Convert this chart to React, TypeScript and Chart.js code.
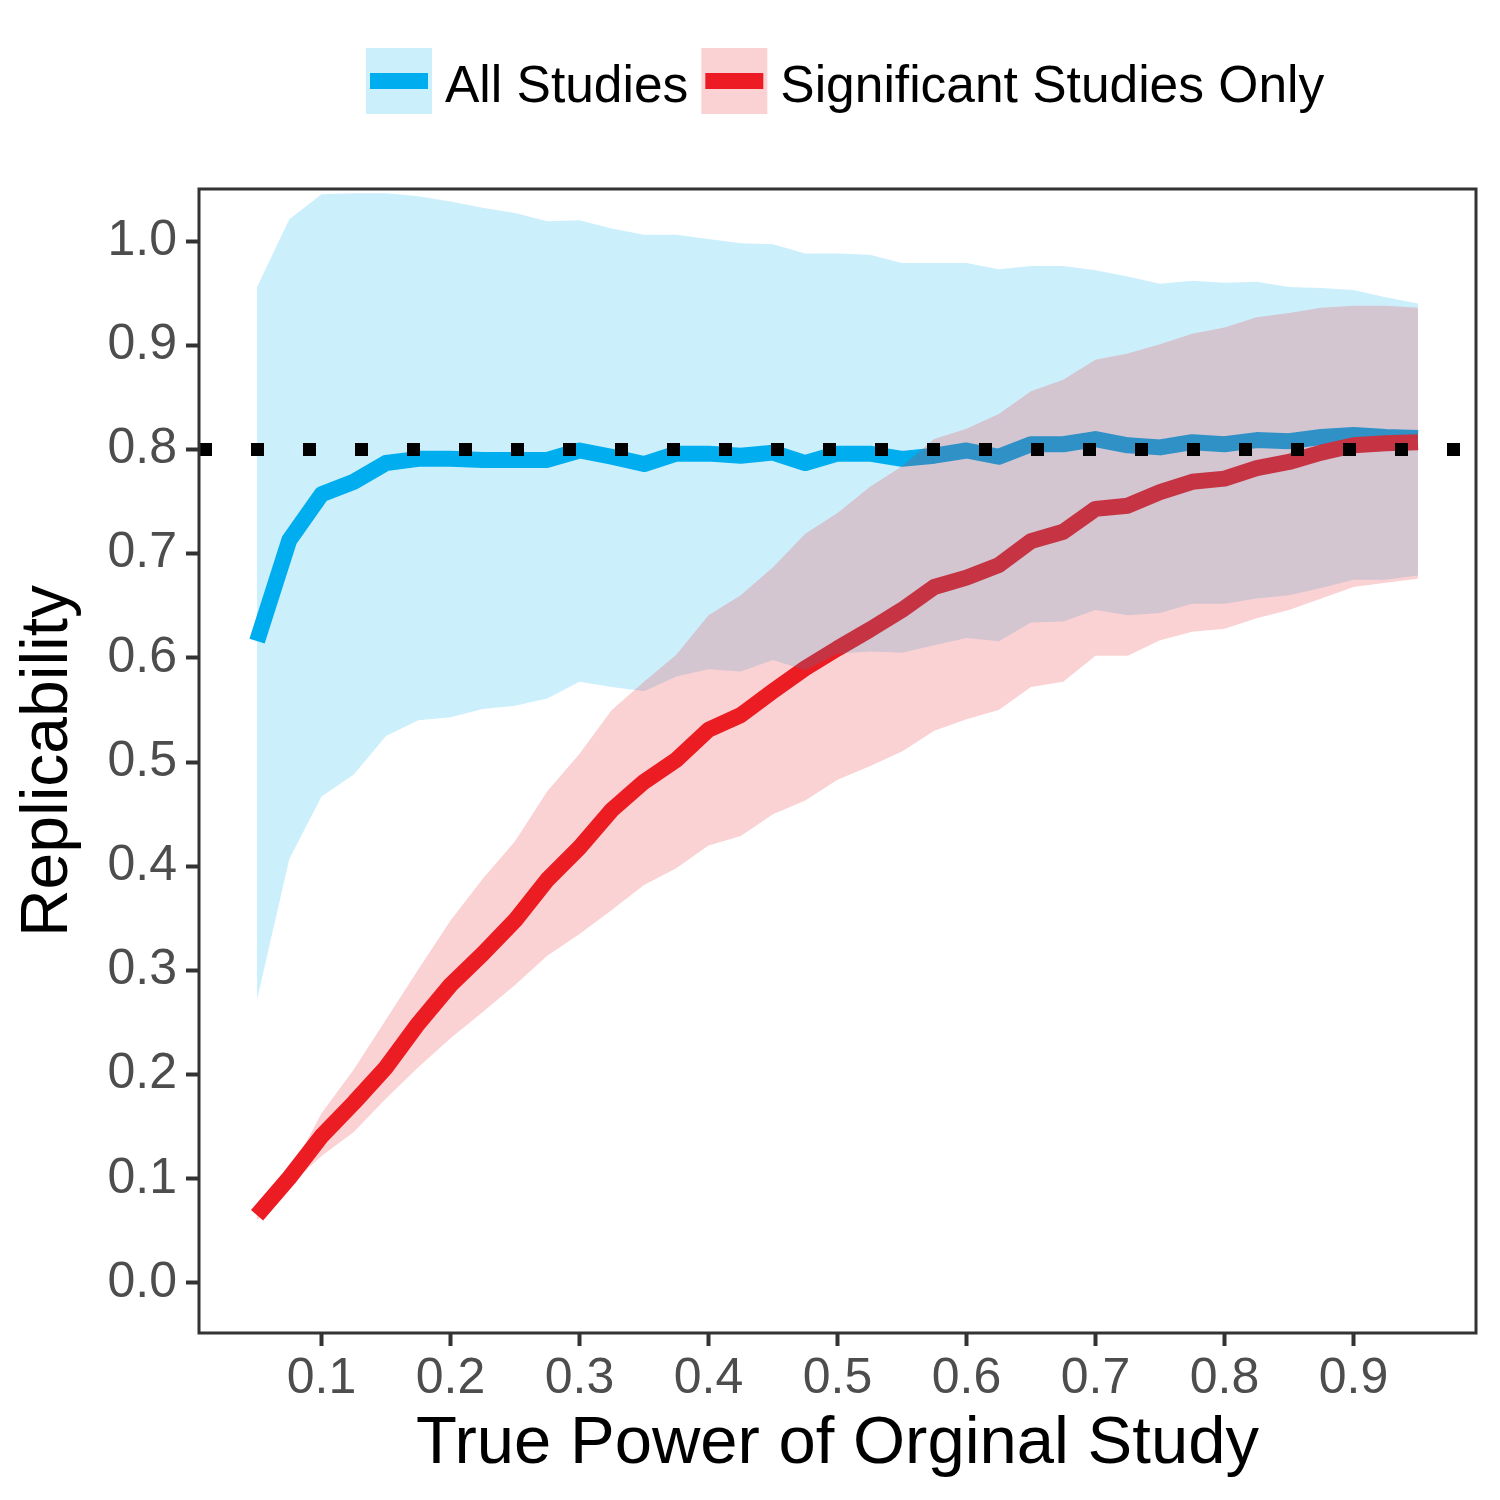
import React, { useEffect, useRef } from "react";
import { Chart, registerables } from "chart.js";

Chart.register(...registerables);

// ---- data ----
const truePower = [
  0.05, 0.075, 0.1, 0.125, 0.15, 0.175, 0.2, 0.225, 0.25, 0.275, 0.3, 0.325, 0.35,
  0.375, 0.4, 0.425, 0.45, 0.475, 0.5, 0.525, 0.55, 0.575, 0.6, 0.625, 0.65, 0.675,
  0.7, 0.725, 0.75, 0.775, 0.8, 0.825, 0.85, 0.875, 0.9, 0.925, 0.95,
];

const allStudiesMean = [
  0.616, 0.713, 0.757, 0.769, 0.787, 0.791, 0.791, 0.790, 0.790, 0.790, 0.799, 0.793, 0.786,
  0.796, 0.796, 0.794, 0.797, 0.787, 0.796, 0.796, 0.791, 0.794, 0.799, 0.793, 0.805, 0.805,
  0.810, 0.804, 0.802, 0.807, 0.805, 0.809, 0.808, 0.812, 0.814, 0.812, 0.811,
];
const allStudiesUpper = [
  0.956, 1.021, 1.045, 1.046, 1.046, 1.043, 1.038, 1.032, 1.027, 1.019, 1.020, 1.012, 1.006,
  1.006, 1.002, 0.998, 0.997, 0.988, 0.988, 0.987, 0.979, 0.979, 0.979, 0.973, 0.976, 0.976,
  0.972, 0.966, 0.959, 0.962, 0.960, 0.961, 0.956, 0.955, 0.953, 0.946, 0.940,
];
const allStudiesLower = [
  0.272, 0.407, 0.467, 0.488, 0.525, 0.540, 0.543, 0.551, 0.554, 0.561, 0.577, 0.572, 0.568,
  0.582, 0.589, 0.587, 0.598, 0.588, 0.604, 0.606, 0.605, 0.612, 0.619, 0.616, 0.634, 0.635,
  0.646, 0.641, 0.643, 0.652, 0.652, 0.657, 0.660, 0.667, 0.675, 0.675, 0.679,
];

const sigStudiesMean = [
  0.065, 0.101, 0.141, 0.173, 0.207, 0.249, 0.286, 0.316, 0.348, 0.387, 0.418, 0.454, 0.481,
  0.502, 0.531, 0.545, 0.568, 0.590, 0.609, 0.627, 0.646, 0.668, 0.677, 0.689, 0.712, 0.721,
  0.743, 0.746, 0.759, 0.769, 0.772, 0.782, 0.788, 0.797, 0.804, 0.806, 0.807,
];
const sigStudiesUpper = [
  0.068, 0.105, 0.163, 0.205, 0.253, 0.301, 0.348, 0.388, 0.424, 0.472, 0.508, 0.550, 0.577,
  0.603, 0.641, 0.660, 0.687, 0.719, 0.739, 0.764, 0.784, 0.810, 0.820, 0.834, 0.856, 0.867,
  0.886, 0.892, 0.901, 0.911, 0.917, 0.927, 0.931, 0.936, 0.938, 0.938, 0.936,
];
const sigStudiesLower = [
  0.060, 0.094, 0.122, 0.145, 0.177, 0.207, 0.235, 0.260, 0.286, 0.314, 0.335, 0.358, 0.382,
  0.398, 0.420, 0.429, 0.450, 0.463, 0.483, 0.496, 0.510, 0.530, 0.541, 0.550, 0.572, 0.577,
  0.602, 0.602, 0.617, 0.625, 0.628, 0.638, 0.646, 0.657, 0.668, 0.672, 0.676,
];

const targetLevel = [0.8];

const xTickValues = [0.1, 0.2, 0.3, 0.4, 0.5, 0.6, 0.7, 0.8, 0.9];
const yTickValues = [0.0, 0.1, 0.2, 0.3, 0.4, 0.5, 0.6, 0.7, 0.8, 0.9, 1.0];

const seriesNames = ["All Studies", "Significant Studies Only"];
const xTitle = "True Power of Orginal Study";
const yTitle = "Replicability";

// ---- styles ----
const X_MIN = 0.005;
const X_MAX = 0.995;
const Y_MIN = -0.048;
const Y_MAX = 1.05;
const BLUE = "#00AEEF";
const RED = "#ED1C24";
const BLUE_FILL = "rgba(0,174,239,0.2)";
const RED_FILL = "rgba(237,28,36,0.2)";
const FONT = "'Liberation Sans', Arial, sans-serif";
const AXIS_COLOR = "#333333";

const pts = (ys: number[]) => truePower.map((x, i) => ({ x, y: ys[i] }));

const legendPlugin = {
  id: "ribbonLegend",
  afterDraw(chart: any) {
    const ctx = chart.ctx as CanvasRenderingContext2D;
    const items = [
      { label: seriesNames[0], line: BLUE, fill: BLUE_FILL },
      { label: seriesNames[1], line: RED, fill: RED_FILL },
    ];
    ctx.save();
    ctx.font = `51.5px ${FONT}`;
    ctx.textBaseline = "alphabetic";
    ctx.textAlign = "left";
    const size = 66;
    const top = 48;
    let x = 366;
    items.forEach((it) => {
      ctx.fillStyle = it.fill;
      ctx.fillRect(x, top, size, size);
      ctx.strokeStyle = it.line;
      ctx.lineWidth = 16;
      ctx.lineCap = "butt";
      ctx.beginPath();
      ctx.moveTo(x + 4, top + size / 2);
      ctx.lineTo(x + size - 4, top + size / 2);
      ctx.stroke();
      ctx.fillStyle = "#000000";
      ctx.fillText(it.label, x + size + 13, 102);
      x += size + 13 + ctx.measureText(it.label).width + 13;
    });
    ctx.restore();
  },
};

const panelBorderPlugin = {
  id: "panelBorder",
  afterDatasetsDraw(chart: any) {
    const { ctx, chartArea } = chart;
    ctx.save();
    ctx.strokeStyle = AXIS_COLOR;
    ctx.lineWidth = 3;
    ctx.strokeRect(
      chartArea.left,
      chartArea.top,
      chartArea.right - chartArea.left,
      chartArea.bottom - chartArea.top
    );
    ctx.restore();
  },
};

export default function App() {
  const canvasRef = useRef<HTMLCanvasElement | null>(null);

  useEffect(() => {
    document.body.style.margin = "0";
    const canvas = canvasRef.current;
    if (!canvas) return;
    Chart.defaults.font.family = FONT;

    const hidden = {
      borderWidth: 0,
      borderColor: "rgba(0,0,0,0)",
      pointRadius: 0,
    };
    const lineStyle = {
      borderWidth: 16,
      pointRadius: 0,
      borderCapStyle: "butt" as const,
      borderJoinStyle: "round" as const,
      fill: false,
      tension: 0,
    };

    const chart = new Chart(canvas, {
      type: "line",
      data: {
        datasets: [
          {
            label: seriesNames[0] + " upper",
            data: pts(allStudiesUpper),
            ...hidden,
            fill: "+1",
            backgroundColor: BLUE_FILL,
            order: 3,
          },
          {
            label: seriesNames[0] + " lower",
            data: pts(allStudiesLower),
            ...hidden,
            fill: false,
            order: 4,
          },
          {
            label: seriesNames[1] + " upper",
            data: pts(sigStudiesUpper),
            ...hidden,
            fill: "+1",
            backgroundColor: RED_FILL,
            order: 1,
          },
          {
            label: seriesNames[1] + " lower",
            data: pts(sigStudiesLower),
            ...hidden,
            fill: false,
            order: 2,
          },
          {
            label: seriesNames[0],
            data: pts(allStudiesMean),
            ...lineStyle,
            borderColor: BLUE,
            order: 6,
          },
          {
            label: seriesNames[1],
            data: pts(sigStudiesMean),
            ...lineStyle,
            borderColor: RED,
            order: 5,
          },
          {
            label: "Target",
            data: [
              { x: X_MIN, y: targetLevel[0] },
              { x: X_MAX, y: targetLevel[0] },
            ],
            borderColor: "#000000",
            borderWidth: 13,
            borderDash: [13, 39],
            borderCapStyle: "butt",
            pointRadius: 0,
            fill: false,
            order: 0,
          },
        ],
      },
      options: {
        responsive: false,
        maintainAspectRatio: false,
        devicePixelRatio: 1,
        animation: false,
        events: [],
        layout: { padding: { left: 0, right: 24, top: 189, bottom: 0 } },
        plugins: {
          legend: { display: false },
          tooltip: { enabled: false },
          title: { display: false },
        },
        scales: {
          x: {
            type: "linear",
            min: X_MIN,
            max: X_MAX,
            afterBuildTicks: (s: any) => {
              s.ticks = xTickValues.map((v) => ({ value: v }));
            },
            afterFit: (s: any) => {
              s.height = 167;
            },
            ticks: {
              callback: (v: any) => Number(v).toFixed(1),
              color: "#4D4D4D",
              font: { size: 50, family: FONT },
              padding: 3,
              maxRotation: 0,
              autoSkip: false,
            },
            grid: {
              drawOnChartArea: false,
              drawTicks: true,
              tickLength: 13,
              tickWidth: 4,
              tickColor: AXIS_COLOR,
              color: AXIS_COLOR,
            },
            border: { display: false },
            title: {
              display: true,
              text: xTitle,
              color: "#000000",
              font: { size: 67, family: FONT },
              padding: { top: 0, bottom: 15 },
            },
          },
          y: {
            type: "linear",
            min: Y_MIN,
            max: Y_MAX,
            afterBuildTicks: (s: any) => {
              s.ticks = yTickValues.map((v) => ({ value: v }));
            },
            afterFit: (s: any) => {
              s.width = 199;
            },
            ticks: {
              callback: (v: any) => Number(v).toFixed(1),
              color: "#4D4D4D",
              font: { size: 50, family: FONT },
              padding: 9,
              autoSkip: false,
            },
            grid: {
              drawOnChartArea: false,
              drawTicks: true,
              tickLength: 13,
              tickWidth: 4,
              tickColor: AXIS_COLOR,
              color: AXIS_COLOR,
            },
            border: { display: false },
            title: {
              display: true,
              text: yTitle,
              color: "#000000",
              font: { size: 66, family: FONT },
              padding: { top: 9, bottom: 0 },
            },
          },
        },
      },
      plugins: [panelBorderPlugin, legendPlugin],
    } as any);

    return () => {
      chart.destroy();
    };
  }, []);

  return (
    <div style={{ width: 1500, height: 1500, background: "#ffffff" }}>
      <canvas
        ref={canvasRef}
        width={1500}
        height={1500}
        style={{ display: "block", width: 1500, height: 1500 }}
      />
    </div>
  );
}
